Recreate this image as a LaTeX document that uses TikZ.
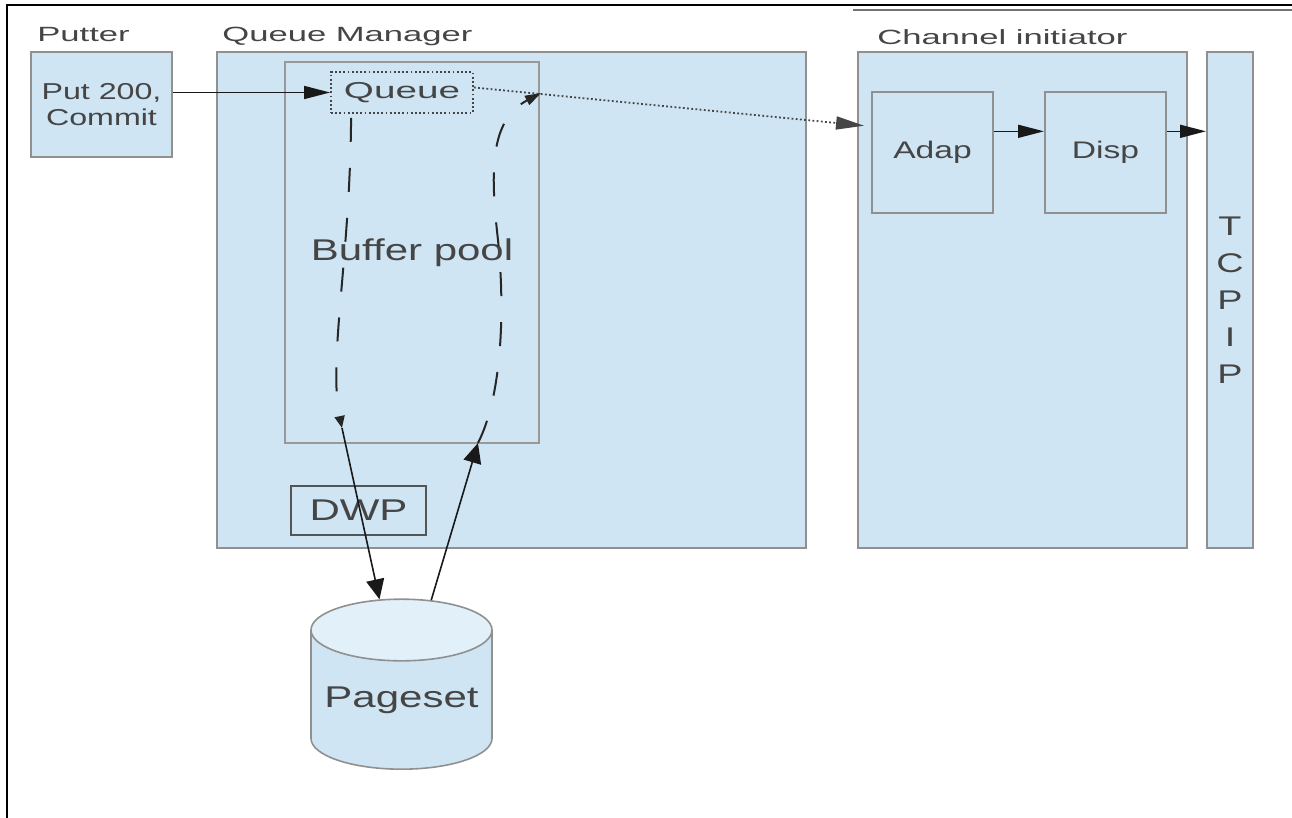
\documentclass[tikz,border=0pt]{standalone}
\usepackage{fontspec}
\setmainfont{Liberation Sans}
\newfontfamily\lblfont{Liberation Sans}[FakeStretch=1.68]
\newfontfamily\boxfont{Liberation Sans}[FakeStretch=1.4]
\usetikzlibrary{arrows.meta,shapes.geometric}
\begin{document}
\begin{tikzpicture}[x=0.5pt,y=-0.5pt,
 box/.style={draw=boxline,fill=boxfill,line width=1pt,inner sep=0pt,text=txt},
 lbl/.style={anchor=base west,inner sep=0pt,text=txt,font=\lblfont\fontsize{10.3pt}{12pt}\selectfont},
 small/.style={font=\boxfont\fontsize{11.5pt}{13pt}\selectfont},
 big/.style={font=\boxfont\fontsize{15pt}{18pt}\selectfont},
 harrow/.style={line width=0.8pt,draw=black!90,-{Triangle[length=13pt,width=6.5pt]}},
 varrow/.style={line width=0.8pt,draw=black!90,-{Triangle[length=10pt,width=9pt]}},
 flow/.style={line width=1pt,draw=black!85,dash pattern=on 12pt off 13pt},
 dots/.style={line width=0.9pt,draw=txt,dash pattern=on 0.9pt off 1.2pt}]
 \definecolor{boxfill}{HTML}{CFE5F3}
 \definecolor{capfill}{HTML}{E1F0F9}
 \definecolor{boxline}{HTML}{909090}
 \definecolor{txt}{HTML}{454545}
 \definecolor{dwpline}{HTML}{555555}
 \useasboundingbox (0,0) rectangle (1292,818);
 \draw [line width=1pt] (7,818) -- (7,5) -- (1292,5);
 \draw [black!55,line width=0.7pt] (853,10) -- (1292,10);
 \node [lbl] (putterlbl) at (37,42) {Putter};
 \node [lbl] (qmlbl) at (222,42) {Queue Manager};
 \node [lbl] (cilbl) at (877,45) {Channel initiator};
 \node [box,small,align=center,minimum width=70.5pt,minimum height=52.5pt] (putter) at (101.5,104.5) {Put 200,\\Commit};
 \node [box,minimum width=294.5pt,minimum height=248pt] (qm) at (511.5,300) {};
 \node [box,big,draw=black!40,line width=0.75pt,minimum width=127pt,minimum height=190.5pt] (pool) at (412,252.5) {Buffer pool};
 \node [dots,small,inner sep=0pt,text=txt,minimum width=71pt,minimum height=20.5pt] (queue) at (402,92.5) {\lblfont Queue};
 \node [big,draw=dwpline,line width=1pt,text=txt,inner sep=0pt,minimum width=67.5pt,minimum height=24.5pt] (dwp) at (358.5,510.5) {DWP};
 \node [cylinder,shape border rotate=90,aspect=0.4,draw=boxline,line width=0.8pt,cylinder uses custom fill,cylinder body fill=boxfill,cylinder end fill=capfill,big,text=txt,inner sep=0pt,minimum width=90.5pt,minimum height=85pt] (pageset) at (401.5,700) {Pageset};
 \node [box,minimum width=164.5pt,minimum height=248pt] (ci) at (1022.5,300) {};
 \node [box,font=\boxfont\fontsize{12pt}{14pt}\selectfont,minimum width=60.5pt,minimum height=60.5pt] (adap) at (932.5,152.5) {Adap};
 \node [box,font=\boxfont\fontsize{12pt}{14pt}\selectfont,minimum width=60.5pt,minimum height=60.5pt] (disp) at (1105.5,152.5) {Disp};
 \node [box,align=center,font=\boxfont\fontsize{13.5pt}{18.5pt}\selectfont,minimum width=23pt,minimum height=248pt] (tcpip) at (1230,300) {T\\C\\P\\I\\P};
 \coordinate (poolout) at (342,428);
 \coordinate (poolin) at (478,443);
 \coordinate (qback) at (541,93);
 \draw [harrow] (putter.east |- queue.west) -- (queue.west);
 \draw [dots,-{Triangle[length=14pt,width=6.5pt]},shorten >=3.5pt] (queue.4) -- (adap.157);
 \draw [harrow] (adap.19) -- (disp.161);
 \draw [harrow] (disp.19) -- (disp.19 -| tcpip.west);
 \draw [flow,-{Triangle[length=6pt,width=5pt]}] ([xshift=10.5pt,yshift=-2pt]queue.south west) .. controls (350,260) and (328,360) .. (poolout);
 \draw [flow,-{Triangle[length=8pt,width=5pt]}] (poolin) .. controls (500,400) and (506,320) .. (498,240) .. controls (490,170) and (490,120) .. (qback);
 \draw [varrow] (poolout) -- (pageset);
 \draw [varrow] (pageset) -- (poolin);
\end{tikzpicture}
\end{document}
